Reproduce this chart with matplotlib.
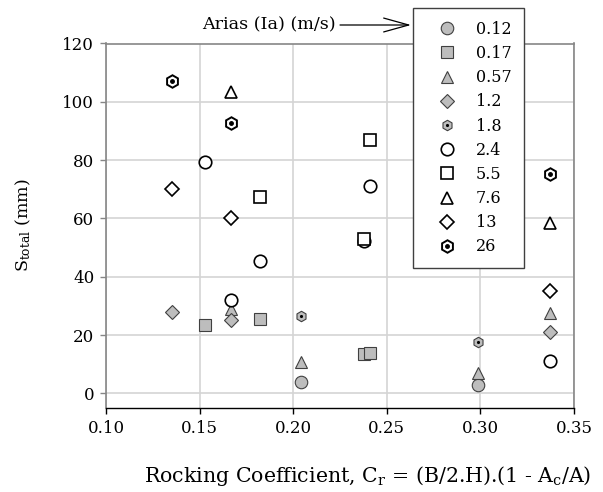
import matplotlib
matplotlib.use("Agg")
import matplotlib.pyplot as plt
from matplotlib.legend_handler import HandlerTuple

plt.rcParams['font.family'] = ['DejaVu Serif']
plt.rcParams['mathtext.default'] = 'regular'
plt.rcParams['font.size'] = 12

# ---- data ----
labels = ['0.12', '0.17', '0.57', '1.2', '1.8', '2.4', '5.5', '7.6', '13', '26']
x_012 = [0.204, 0.2985]
y_012 = [3.9, 2.8]
x_017 = [0.153, 0.182, 0.2377, 0.241]
y_017 = [23.3, 25.6, 13.4, 13.8]
x_057 = [0.167, 0.204, 0.2985, 0.337]
y_057 = [29.0, 10.9, 7.1, 27.5]
x_12 = [0.135, 0.167, 0.337]
y_12 = [28.0, 25.1, 21.1]
x_18 = [0.204, 0.2985]
y_18 = [26.6, 17.8]
x_24 = [0.153, 0.167, 0.182, 0.2377, 0.241, 0.337]
y_24 = [79.5, 32.2, 45.3, 52.2, 71.0, 11.0]
x_55 = [0.182, 0.2377, 0.241]
y_55 = [67.3, 53.0, 87.0]
x_76 = [0.167, 0.337]
y_76 = [103.5, 58.5]
x_13 = [0.135, 0.167, 0.337]
y_13 = [70.2, 60.1, 35.1]
x_26 = [0.135, 0.167, 0.337]
y_26 = [107.1, 92.9, 75.1]
xticks = [0.10, 0.15, 0.20, 0.25, 0.30, 0.35]
yticks = [0, 20, 40, 60, 80, 100, 120]

GRAY = '#bdbdbd'
GEDGE = '#404040'

fig = plt.figure(figsize=(6.03, 4.92), dpi=100)
ax = fig.add_axes([106/603, 1-408/492, 468/603, 364.5/492])

series = [
    (x_012, y_012, dict(marker='o', ms=9, mfc=GRAY, mec=GEDGE, mew=0.8)),
    (x_017, y_017, dict(marker='s', ms=8, mfc=GRAY, mec=GEDGE, mew=0.8)),
    (x_057, y_057, dict(marker='^', ms=8.5, mfc=GRAY, mec=GEDGE, mew=0.8)),
    (x_12, y_12, dict(marker='D', ms=7, mfc=GRAY, mec=GEDGE, mew=0.8)),
    (x_18, y_18, dict(marker='h', ms=7.5, mfc=GRAY, mec=GEDGE, mew=0.8)),
    (x_24, y_24, dict(marker='o', ms=9, mfc='white', mec='black', mew=1.2)),
    (x_55, y_55, dict(marker='s', ms=8, mfc='white', mec='black', mew=1.2)),
    (x_76, y_76, dict(marker='^', ms=8.5, mfc='white', mec='black', mew=1.2)),
    (x_13, y_13, dict(marker='D', ms=7, mfc='white', mec='black', mew=1.2)),
    (x_26, y_26, dict(marker='h', ms=9, mfc='white', mec='black', mew=1.4)),
]
dots = {4: dict(marker='.', ms=2.5, color='black'), 9: dict(marker='.', ms=5, color='black')}

handles = []
for i, (xs, ys, st) in enumerate(series):
    h = ax.plot(xs, ys, ls='none', zorder=3 + i * 0.1, **st)[0]
    if i in dots:
        d = ax.plot(xs, ys, ls='none', zorder=3.05 + i * 0.1, **dots[i])[0]
        handles.append((h, d))
    else:
        handles.append(h)

ax.set_xlim(0.10, 0.35)
ax.set_ylim(-5, 120)
ax.set_xticks(xticks)
ax.set_xticklabels([f'{v:.2f}' for v in xticks])
ax.set_yticks(yticks)
ax.grid(True, color='#d4d4d4', lw=1.2, zorder=0)
ax.set_axisbelow(True)
for s in ['left', 'top', 'right']:
    ax.spines[s].set_color('#868686')
    ax.spines[s].set_linewidth(1.2)
ax.spines['bottom'].set_color('black')
ax.spines['bottom'].set_linewidth(1.0)
ax.tick_params(axis='both', direction='out', length=4.5, width=1, labelsize=12, pad=4)
ax.tick_params(axis='y', colors='#868686', labelcolor='black')

ax.set_xlabel('Rocking Coefficient, C$_r$ = (B/2.H).(1 - A$_c$/A)', fontsize=14.8)
ax.set_ylabel('S$_{total}$ (mm)', fontsize=12.5)
ax.xaxis.set_label_coords(0.56, -0.155)
ax.yaxis.set_label_coords(-0.155, 0.5)

leg = fig.legend(handles, labels, loc='upper left', bbox_to_anchor=(412.7/603, 1-8/492),
                 frameon=True, fancybox=False, framealpha=1, edgecolor='#404040',
                 borderpad=0.8, handlelength=2.7, handletextpad=0.45, labelspacing=0.45,
                 borderaxespad=0, fontsize=11.5, numpoints=1,
                 handler_map={tuple: HandlerTuple(ndivide=1, pad=0)})
leg.get_frame().set_linewidth(1.0)

fig.text(336/603, 1-25/492, 'Arias (Ia) (m/s)', ha='right', va='center', fontsize=12.6)
ax.annotate('', xy=(411/603, 1-25/492), xytext=(340/603, 1-25/492),
            xycoords='figure fraction', textcoords='figure fraction',
            arrowprops=dict(arrowstyle='->,head_length=1.8,head_width=0.5',
                            mutation_scale=10, lw=0.9, color='black',
                            shrinkA=0, shrinkB=0))

fig.savefig('out.png', dpi=100)
